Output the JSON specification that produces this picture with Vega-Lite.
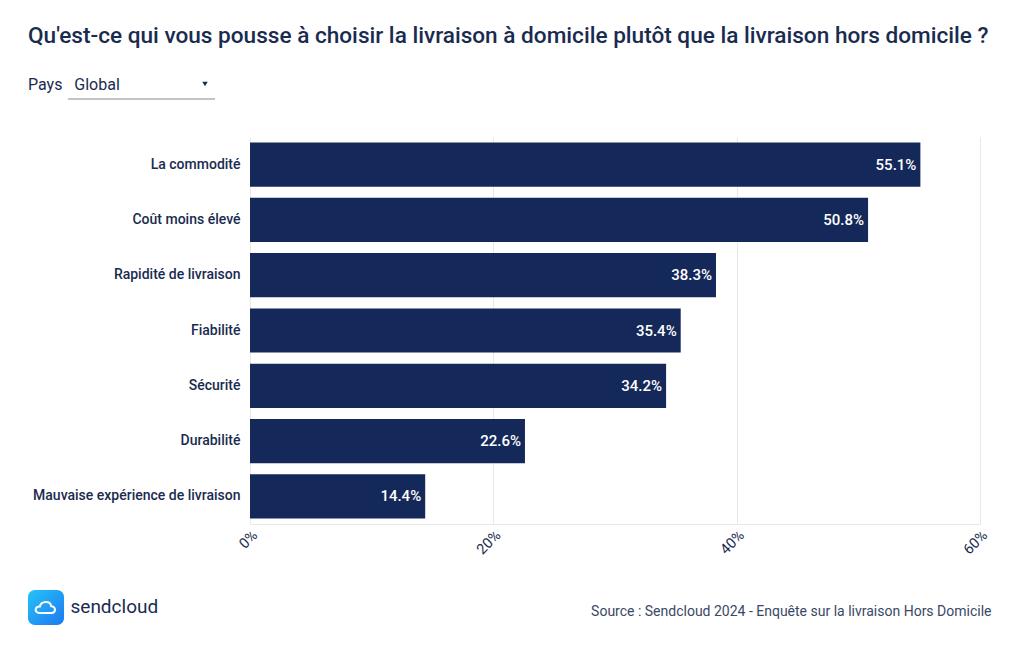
{
  "$schema": "https://vega.github.io/schema/vega-lite/v6.json",
  "width": 730,
  "height": 387,
  "autosize": {"type": "none"},
  "padding": {"left": 250, "top": 137, "right": 40, "bottom": 126},
  "background": "white",
  "config": {"view": {"stroke": null}, "font": "Roboto"},
  "title": {
    "text": "Qu'est-ce qui vous pousse à choisir la livraison à domicile plutôt que la livraison hors domicile ?",
    "subtitle": "Pays\u00a0\u00a0\u00a0Global",
    "anchor": "start",
    "frame": "group",
    "dx": -222,
    "font": "Roboto",
    "fontSize": 22.6,
    "fontWeight": 500,
    "color": "#1a2b50",
    "subtitleFont": "Roboto",
    "subtitleFontSize": 16,
    "subtitleColor": "#1a2b50",
    "subtitlePadding": 29,
    "offset": -11
  },
  "data": {
    "values": [
      {"raison": "La commodité", "pct": 0.551},
      {"raison": "Coût moins élevé", "pct": 0.508},
      {"raison": "Rapidité de livraison", "pct": 0.383},
      {"raison": "Fiabilité", "pct": 0.354},
      {"raison": "Sécurité", "pct": 0.342},
      {"raison": "Durabilité", "pct": 0.226},
      {"raison": "Mauvaise expérience de livraison", "pct": 0.144}
    ]
  },
  "encoding": {
    "y": {
      "field": "raison",
      "type": "nominal",
      "sort": {"field": "pct", "order": "descending"},
      "scale": {"paddingInner": 0.2, "paddingOuter": 0.1},
      "axis": {
        "title": "sendcloud",
        "titleAngle": 0,
        "titleX": -180,
        "titleY": 475,
        "titleAlign": "left",
        "titleBaseline": "alphabetic",
        "titleFont": "Roboto",
        "titleFontSize": 19,
        "titleFontWeight": "normal",
        "titleColor": "#1a2b50",
        "labelFont": "Roboto",
        "labelFontSize": 14,
        "labelFontWeight": 500,
        "labelColor": "#1a2b50",
        "labelPadding": 10,
        "ticks": false,
        "domain": false,
        "labelLimit": 400
      }
    },
    "x": {
      "field": "pct",
      "type": "quantitative",
      "scale": {"domain": [0, 0.6]},
      "axis": {
        "values": [0, 0.2, 0.4, 0.6],
        "format": ".0%",
        "labelAngle": -45,
        "labelFont": "Roboto",
        "labelFontSize": 14.5,
        "labelColor": "#1a2b50",
        "labelPadding": 4,
        "ticks": false,
        "grid": true,
        "gridColor": "#e8e8e8",
        "domainColor": "#e8e8e8",
        "title": "Source : Sendcloud 2024 - Enquête sur la livraison Hors Domicile",
        "titleX": 741,
        "titleY": 91,
        "titleAlign": "right",
        "titleBaseline": "alphabetic",
        "titleFont": "Roboto",
        "titleFontSize": 14,
        "titleFontWeight": "normal",
        "titleColor": "#3a4866"
      }
    }
  },
  "layer": [
    {"mark": {"type": "bar", "color": "#14295a"}},
    {
      "mark": {"type": "text", "align": "right", "baseline": "middle", "dx": -4, "color": "white", "font": "Roboto", "fontSize": 15, "fontWeight": 500},
      "encoding": {"text": {"field": "pct", "type": "quantitative", "format": ".1%"}}
    },
    {
      "data": {"values": [{}]},
      "mark": {"type": "rule", "color": "#b0b0b0", "strokeWidth": 1.5},
      "encoding": {"x": {"value": -182}, "x2": {"value": -35}, "y": {"value": -38}}
    },
    {
      "data": {"values": [{}]},
      "mark": {"type": "point", "shape": "triangle-down", "filled": true, "color": "#1a2b50", "size": 30, "opacity": 1},
      "encoding": {"x": {"value": -45}, "y": {"value": -53}}
    },
    {
      "data": {"values": [{}]},
      "mark": {"type": "rect", "cornerRadius": 7, "color": {"gradient": "linear", "x1": 0, "y1": 0, "x2": 1, "y2": 1, "stops": [{"offset": 0, "color": "#25c4f8"}, {"offset": 1, "color": "#1e78f0"}]}},
      "encoding": {"x": {"value": -222}, "x2": {"value": -186}, "y": {"value": 453}, "y2": {"value": 488}}
    },
    {
      "data": {"values": [{}]},
      "mark": {"type": "point", "shape": "M -0.55 0.4 C -0.95 0.4 -0.95 -0.15 -0.5 -0.12 C -0.42 -0.62 0.38 -0.62 0.42 -0.15 C 0.85 -0.1 0.82 0.4 0.45 0.4 Z", "filled": false, "stroke": "white", "strokeWidth": 2, "size": 600, "opacity": 1},
      "encoding": {"x": {"value": -204}, "y": {"value": 471}}
    }
  ]
}
